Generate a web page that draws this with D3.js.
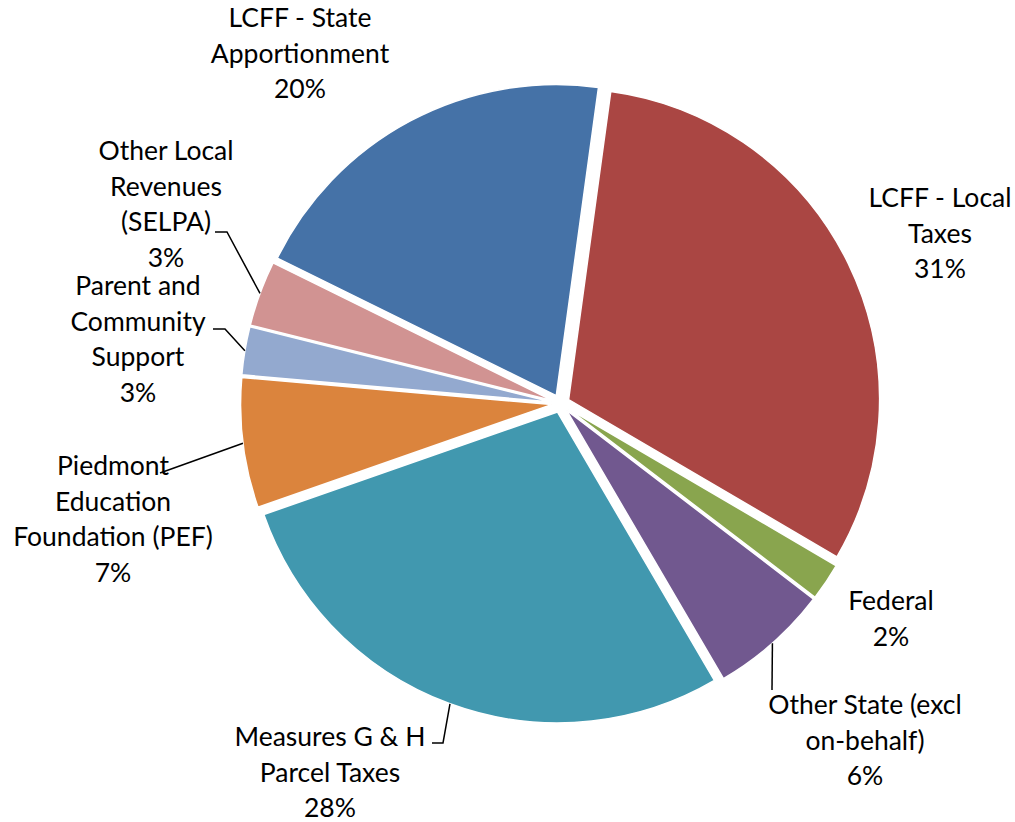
<!DOCTYPE html>
<html>
<head>
<meta charset="utf-8">
<script src="https://cdn.jsdelivr.net/npm/d3@7"></script>
<style>
  html, body { margin: 0; padding: 0; background: #fff; }
  svg text { font-family: Lato, "Open Sans", sans-serif; font-size: 26.5px; fill: #000; }
</style>
</head>
<body>
<svg id="chart" width="1015" height="822"></svg>
<script>
// slice order = clockwise from the top (Excel order)
var categories = ["LCFF - Local Taxes", "Federal", "Other State (excl on-behalf)", "Measures G & H Parcel Taxes",
                  "Piedmont Education Foundation (PEF)", "Parent and Community Support",
                  "Other Local Revenues (SELPA)", "LCFF - State Apportionment"];
var values = [31.3, 1.95, 6.2, 28.1, 6.75, 2.5, 3.4, 19.9];
var pctLabels = ["31%", "2%", "6%", "28%", "7%", "3%", "3%", "20%"];
var colors = ["#AA4643", "#89A54E", "#71588F", "#4198AF", "#DB843D", "#93A9CF", "#D19392", "#4572A7"];

// label text lines, and where they sit (layout only)
var labelLines = [
  ["LCFF - Local", "Taxes"],
  ["Federal"],
  ["Other State (excl", "on-behalf)"],
  ["Measures G & H", "Parcel Taxes"],
  ["Piedmont", "Education", "Foundation (PEF)"],
  ["Parent and", "Community", "Support"],
  ["Other Local", "Revenues", "(SELPA)"],
  ["LCFF - State", "Apportionment"]
];
var labelPos = [[940, 198], [891, 601], [865, 705], [330, 737], [113, 466], [138, 286], [166, 151], [300, 18]];
// leader: [elbow, end] (null = no leader)
var leaders = [null, null, [[772, 690], [772, 690]], [[443, 743], [432, 743]], [[160, 473], [160, 473]],
               [[225, 329], [213, 329]], [[227, 232], [215, 232]], null];

var width = 1015, height = 822;
var cx = 560.5, cy = 403.5, R = 311, explode = 9;
var startAngle = 7.8 * Math.PI / 180;

var svg = d3.select("#chart");
var g = svg.append("g").attr("transform", "translate(" + cx + "," + cy + ")");

var pie = d3.pie().sort(null)
  .startAngle(startAngle).endAngle(startAngle + 2 * Math.PI)
  .value(function(d) { return d; });
var arcs = pie(values);
var arc = d3.arc().innerRadius(0).outerRadius(R);

function mid(d) { return (d.startAngle + d.endAngle) / 2; }
function offset(d, r) { var a = mid(d); return [Math.sin(a) * r, -Math.cos(a) * r]; }

g.selectAll("path.slice").data(arcs).enter().append("path")
  .attr("class", "slice")
  .attr("transform", function(d) { var o = offset(d, explode); return "translate(" + o[0] + "," + o[1] + ")"; })
  .attr("d", arc)
  .attr("fill", function(d, i) { return colors[i]; })
  .attr("stroke", "#fff")
  .attr("stroke-width", 1.5);

// leader lines, starting at the outer edge of the slice
arcs.forEach(function(d, i) {
  if (!leaders[i]) return;
  var p = offset(d, explode + R);
  var pts = [[cx + p[0], cy + p[1]], leaders[i][0], leaders[i][1]];
  svg.append("path")
    .attr("d", d3.line()(pts))
    .attr("fill", "none")
    .attr("stroke", "#000")
    .attr("stroke-width", 1.5);
});

// labels
var lineH = 35.5;
arcs.forEach(function(d, i) {
  var lines = labelLines[i].concat([pctLabels[i]]);
  var t = svg.append("text")
    .attr("text-anchor", "middle");
  lines.forEach(function(s, k) {
    t.append("tspan")
      .attr("x", labelPos[i][0])
      .attr("y", labelPos[i][1] + k * lineH)
      .attr("dy", "0.35em")
      .text(s);
  });
});
</script>
</body>
</html>
